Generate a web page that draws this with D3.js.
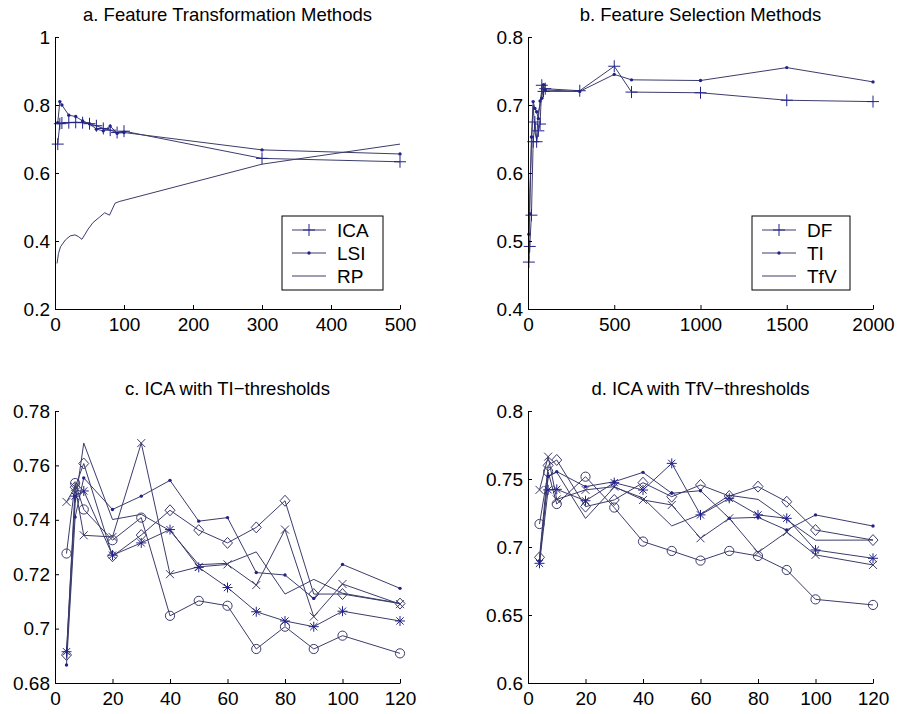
<!DOCTYPE html>
<html>
<head>
<meta charset="utf-8">
<script src="https://cdn.jsdelivr.net/npm/d3@7"></script>
<style>
  html, body { margin: 0; padding: 0; background: #fff; }
  svg { display: block; }
  text { font-family: "Liberation Sans", Arial, Helvetica, sans-serif; fill: #000; }
</style>
</head>
<body>
<svg id="fig" width="897" height="714"></svg>
<script>
// ---------- a. Feature Transformation Methods ----------
const dimsA = [4, 7, 10, 20, 30, 40, 50, 60, 70, 80, 90, 100, 300, 500];
const icaA  = [0.685, 0.745, 0.747, 0.748, 0.749, 0.748, 0.745, 0.739, 0.731, 0.726, 0.719, 0.723, 0.643, 0.633];
const lsiA  = [0.748, 0.810, 0.800, 0.770, 0.766, 0.753, 0.745, 0.729, 0.724, 0.738, 0.717, 0.719, 0.668, 0.656];
const dimsRP = [3, 5, 8, 15, 22, 29, 34, 39, 43, 48, 55, 65, 72, 79, 87, 93, 300, 500];
const rpA    = [0.334, 0.363, 0.383, 0.403, 0.415, 0.418, 0.413, 0.405, 0.418, 0.435, 0.454, 0.471, 0.483, 0.476, 0.511, 0.516, 0.626, 0.685];
const ticksAx = [0, 100, 200, 300, 400, 500];
const ticksAy = [0.2, 0.4, 0.6, 0.8, 1];

// ---------- b. Feature Selection Methods ----------
const featsB = [5, 10, 20, 30, 40, 50, 60, 70, 80, 90, 100, 300, 500, 600, 1000, 1500, 2000];
const dfB    = [0.469, 0.492, 0.538, 0.646, 0.675, 0.646, 0.662, 0.672, 0.729, 0.720, 0.724, 0.721, 0.757, 0.719, 0.718, 0.707, 0.705];
const tiB    = [0.510, 0.540, 0.653, 0.705, 0.695, 0.690, 0.680, 0.706, 0.710, 0.730, 0.722, 0.720, 0.745, 0.737, 0.736, 0.755, 0.734];
const featsTfV = [5, 10, 20, 30, 40, 50, 60, 70, 80, 90, 100, 300];
const tfvB     = [0.490, 0.570, 0.640, 0.700, 0.660, 0.650, 0.690, 0.700, 0.722, 0.725, 0.720, 0.720];
const ticksBx = [0, 500, 1000, 1500, 2000];
const ticksBy = [0.4, 0.5, 0.6, 0.7, 0.8];

// ---------- c. ICA with TI-thresholds ----------
const dimsCD = [4, 7, 10, 20, 30, 40, 50, 60, 70, 80, 90, 100, 120];
const cCircle  = [0.7276, 0.7535, 0.7438, 0.7325, 0.7408, 0.7047, 0.7102, 0.7084, 0.6925, 0.7007, 0.6925, 0.6974, 0.6909];
const cStar    = [0.6915, 0.7487, 0.7506, 0.7270, 0.7315, 0.7364, 0.7225, 0.7151, 0.7062, 0.7028, 0.7007, 0.7064, 0.7028];
const cDot     = [0.6866, 0.7410, 0.7554, 0.7438, 0.7487, 0.7545, 0.7395, 0.7408, 0.7206, 0.7197, 0.7111, 0.7236, 0.7148];
const cDiamond = [0.6903, 0.7520, 0.7607, 0.7266, 0.7344, 0.7435, 0.7362, 0.7315, 0.7372, 0.7470, 0.7127, 0.7127, 0.7092];
const cCross   = [0.7466, 0.7520, 0.7343, 0.7337, 0.7682, 0.7200, 0.7227, 0.7236, 0.7160, 0.7364, 0.7044, 0.7164, 0.7090];
const cPlain   = [0.6890, 0.7460, 0.7682, 0.7401, 0.7420, 0.7360, 0.7235, 0.7240, 0.7282, 0.7127, 0.7181, 0.7130, 0.7093];
const ticksCx = [0, 20, 40, 60, 80, 100, 120];
const ticksCy = [0.68, 0.70, 0.72, 0.74, 0.76, 0.78];

// ---------- d. ICA with TfV-thresholds ----------
const dCircle  = [0.7169, 0.7554, 0.7316, 0.7517, 0.7290, 0.7040, 0.6971, 0.6900, 0.6971, 0.6934, 0.6831, 0.6615, 0.6574];
const dStar    = [0.6880, 0.7420, 0.7424, 0.7340, 0.7473, 0.7419, 0.7615, 0.7236, 0.7358, 0.7236, 0.7211, 0.6978, 0.6917];
const dDot     = [0.6900, 0.7520, 0.7554, 0.7444, 0.7480, 0.7549, 0.7395, 0.7414, 0.7211, 0.7218, 0.7125, 0.7236, 0.7154];
const dDiamond = [0.6924, 0.7600, 0.7640, 0.7297, 0.7346, 0.7473, 0.7370, 0.7456, 0.7375, 0.7444, 0.7333, 0.7125, 0.7051];
const dCross   = [0.7420, 0.7664, 0.7350, 0.7420, 0.7444, 0.7346, 0.7309, 0.7064, 0.7211, 0.6960, 0.7110, 0.6942, 0.6868];
const dPlain   = [0.6900, 0.7520, 0.7550, 0.7210, 0.7440, 0.7360, 0.7155, 0.7240, 0.7380, 0.7350, 0.7200, 0.7050, 0.7051];
const ticksDy = [0.6, 0.65, 0.7, 0.75, 0.8];

// ---------- drawing ----------
const LINE = "#3c3c6c";
const MARK = "#22228a";
const svg = d3.select("#fig");
const fmt = d => String(+d.toFixed(4));

// marker glyphs, centred on (0,0)
function drawMarker(g, type) {
  const c = MARK;
  switch (type) {
    case "plus":
      g.append("path").attr("d", "M-6,0H6M0,-6V6").attr("stroke", c).attr("fill", "none"); break;
    case "dot":
      g.append("circle").attr("r", 1.7).attr("fill", c); break;
    case "circle":
      g.append("circle").attr("r", 4.6).attr("fill", "none").attr("stroke", LINE); break;
    case "diamond":
      g.append("path").attr("d", "M0,-5.5L5,0L0,5.5L-5,0Z").attr("fill", "none").attr("stroke", LINE); break;
    case "cross":
      g.append("path").attr("d", "M-4,-4L4,4M-4,4L4,-4").attr("fill", "none").attr("stroke", LINE); break;
    case "star":
      g.append("path").attr("d", "M-5,0H5M0,-5V5M-3.6,-3.6L3.6,3.6M-3.6,3.6L3.6,-3.6").attr("fill", "none").attr("stroke", c); break;
  }
}

function panel(opt) {
  const { left, right, top, bottom } = opt;
  const x = d3.scaleLinear().domain(opt.xDomain).range([left, right]);
  const y = d3.scaleLinear().domain(opt.yDomain).range([bottom, top]);
  const g = svg.append("g");

  // series
  opt.series.forEach(s => {
    const pts = s.x.map((xv, i) => [xv, s.y[i]]);
    g.append("path")
      .attr("d", d3.line().x(d => x(d[0])).y(d => y(d[1]))(pts))
      .attr("fill", "none").attr("stroke", LINE).attr("stroke-width", 1);
    if (s.marker) {
      pts.forEach(p => {
        const m = g.append("g").attr("transform", `translate(${x(p[0])},${y(p[1])})`);
        drawMarker(m, s.marker);
      });
    }
  });

  // axes (inward ticks, left and bottom only)
  const ax = g.append("g").attr("transform", `translate(0,${bottom})`)
    .call(d3.axisBottom(x).tickValues(opt.xTicks).tickFormat(fmt).tickSizeInner(-4).tickSizeOuter(0).tickPadding(9));
  const ay = g.append("g").attr("transform", `translate(${left},0)`)
    .call(d3.axisLeft(y).tickValues(opt.yTicks).tickFormat(fmt).tickSizeInner(-4).tickSizeOuter(0).tickPadding(5));
  [ax, ay].forEach(a => {
    a.select(".domain").attr("stroke", "#000");
    a.selectAll(".tick line").attr("stroke", "#000");
    a.selectAll(".tick text").attr("font-size", 19).attr("fill", "#000")
      .attr("font-family", "'Liberation Sans', Arial, sans-serif");
  });

  // title
  g.append("text").attr("x", (left + right) / 2).attr("y", top - 16.5)
    .attr("text-anchor", "middle").attr("font-size", 18.5).text(opt.title);

  // legend
  if (opt.legend) {
    const L = opt.legend;
    g.append("rect").attr("x", L.x).attr("y", L.y).attr("width", L.w).attr("height", L.h)
      .attr("fill", "#fff").attr("stroke", "#000").attr("stroke-width", 1);
    L.items.forEach((it, i) => {
      const cy = L.y + 14 + i * 23;
      g.append("line").attr("x1", L.x + 10).attr("x2", L.x + 44).attr("y1", cy).attr("y2", cy)
        .attr("stroke", LINE);
      if (it.marker) drawMarker(g.append("g").attr("transform", `translate(${L.x + 27},${cy})`), it.marker);
      g.append("text").attr("x", L.x + 55).attr("y", cy).attr("dy", "0.36em")
        .attr("font-size", 19).text(it.name);
    });
  }
}

panel({
  left: 55, right: 400, top: 37, bottom: 309,
  xDomain: [0, 500], yDomain: [0.2, 1], xTicks: ticksAx, yTicks: ticksAy,
  title: "a. Feature Transformation Methods",
  series: [
    { x: dimsA, y: icaA, marker: "plus" },
    { x: dimsA, y: lsiA, marker: "dot" },
    { x: dimsRP, y: rpA, marker: null }
  ],
  legend: { x: 282, y: 216, w: 101, h: 74,
    items: [{ name: "ICA", marker: "plus" }, { name: "LSI", marker: "dot" }, { name: "RP", marker: null }] }
});

panel({
  left: 528, right: 873, top: 37, bottom: 309,
  xDomain: [0, 2000], yDomain: [0.4, 0.8], xTicks: ticksBx, yTicks: ticksBy,
  title: "b. Feature Selection Methods",
  series: [
    { x: featsTfV, y: tfvB, marker: null },
    { x: featsB, y: dfB, marker: "plus" },
    { x: featsB, y: tiB, marker: "dot" }
  ],
  legend: { x: 752, y: 216, w: 98, h: 74,
    items: [{ name: "DF", marker: "plus" }, { name: "TI", marker: "dot" }, { name: "TfV", marker: null }] }
});

panel({
  left: 55, right: 400, top: 411, bottom: 683,
  xDomain: [0, 120], yDomain: [0.68, 0.78], xTicks: ticksCx, yTicks: ticksCy,
  title: "c. ICA with TI\u2212thresholds",
  series: [
    { x: dimsCD, y: cPlain, marker: null },
    { x: dimsCD, y: cCircle, marker: "circle" },
    { x: dimsCD, y: cCross, marker: "cross" },
    { x: dimsCD, y: cDiamond, marker: "diamond" },
    { x: dimsCD, y: cDot, marker: "dot" },
    { x: dimsCD, y: cStar, marker: "star" }
  ]
});

panel({
  left: 528, right: 873, top: 411, bottom: 683,
  xDomain: [0, 120], yDomain: [0.6, 0.8], xTicks: ticksCx, yTicks: ticksDy,
  title: "d. ICA with TfV\u2212thresholds",
  series: [
    { x: dimsCD, y: dPlain, marker: null },
    { x: dimsCD, y: dCircle, marker: "circle" },
    { x: dimsCD, y: dCross, marker: "cross" },
    { x: dimsCD, y: dDiamond, marker: "diamond" },
    { x: dimsCD, y: dDot, marker: "dot" },
    { x: dimsCD, y: dStar, marker: "star" }
  ]
});
</script>
</body>
</html>
